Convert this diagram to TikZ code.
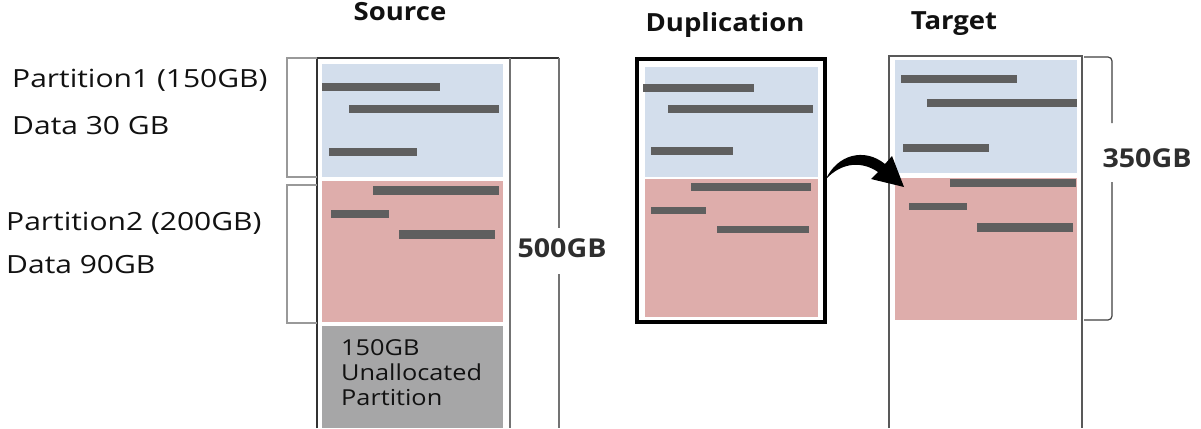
\documentclass[tikz,border=0pt]{standalone}
\usepackage{fontspec}
\setmainfont{Open Sans}[FakeStretch=1.1]
\newfontfamily\widefont{Open Sans}[FakeStretch=1.2]
\newfontfamily\midfont{Open Sans}[FakeStretch=1.15]
\definecolor{pblue}{HTML}{D3DEEC}
\definecolor{pred}{HTML}{DEADAB}
\definecolor{pgray}{HTML}{A6A6A7}
\definecolor{barc}{HTML}{5F5F5F}
\definecolor{txt}{HTML}{111111}
\definecolor{numc}{HTML}{2E2E2E}
\tikzset{
  databar/.style={fill=barc},
  head/.style={font=\fontsize{25}{29}\selectfont\bfseries, text=txt, anchor=base, inner sep=0pt},
  sizelbl/.style={font=\fontsize{26}{30}\selectfont\bfseries, text=numc, anchor=base, inner sep=0pt},
  plabel/.style={font=\widefont\fontsize{25}{29}\selectfont, text=txt, anchor=base west, inner sep=0pt},
  edge/.style={draw=#1, line width=1.5pt},
  brk/.style={draw=#1, line width=1.2pt},
}
\begin{document}
\begin{tikzpicture}[x=1pt,y=-1pt]
\useasboundingbox[fill=white] (0,0) rectangle (1201,428);

% ---------- Source ----------
\fill[pblue] (322,64) rectangle (503,177);
\fill[pred] (322,181) rectangle (503,322);
\fill[pgray] (322,326) rectangle (503,428);
\fill[databar] (322,83) rectangle (440,91);
\fill[databar] (349,105) rectangle (499,113);
\fill[databar] (329,148) rectangle (417,156);
\fill[databar] (373,186) rectangle (499,195);
\fill[databar] (331,210) rectangle (389,218);
\fill[databar] (399,230) rectangle (495,239);
\draw[edge={black!80}] (317,428) -- (317,58) -- (559,58);
\draw[edge={black!55}] (510,58) -- (510,428);
\draw[edge={black!55}] (559,58) -- (559,228);
\draw[edge={black!55}] (559,274) -- (559,428);
\node[head] (src) at (400,21) {Source};
\node[sizelbl] (s500) at (562,257) {500GB};
\node[font=\midfont\fontsize{22}{25}\selectfont, text=txt, anchor=base west, align=left, inner sep=0pt] (unal1) at (341,355) {150GB};
\node[font=\midfont\fontsize{22}{25}\selectfont, text=txt, anchor=base west, align=left, inner sep=0pt] (unal2) at (341,380) {Unallocated};
\node[font=\midfont\fontsize{22}{25}\selectfont, text=txt, anchor=base west, align=left, inner sep=0pt] (unal3) at (341,405) {Partition};

% left brackets
\draw[brk={black!40}] (317,58) -- (287,58) -- (287,177) -- (317,177);
\draw[brk={black!40}] (317,185) -- (287,185) -- (287,323) -- (317,323);
\node[plabel] (p1) at (12,88) {Partition1 (150GB)};
\node[plabel] (d1) at (12,134) {Data 30 GB};
\node[plabel] (p2) at (6,230) {Partition2 (200GB)};
\node[plabel] (d2) at (6,273) {Data 90GB};

% ---------- Duplication ----------
\fill[pblue] (645,67) rectangle (818,177);
\fill[pred] (645,179) rectangle (818,317);
\fill[databar] (643,84) rectangle (754,92);
\fill[databar] (668,105) rectangle (813,113);
\fill[databar] (651,147) rectangle (733,155);
\fill[databar] (691,183) rectangle (811,191);
\fill[databar] (651,207) rectangle (706,214);
\fill[databar] (717,226) rectangle (809,233);
\node[draw=black, line width=3.5pt, minimum width=188pt, minimum height=263pt, inner sep=0pt] (dup) at (731,190.5) {};
\node[head] (duph) at (725,32) {Duplication};

% ---------- Target ----------
\fill[pblue] (895,60) rectangle (1077,173);
\fill[pred] (895,178) rectangle (1077,320);
\fill[databar] (901,75) rectangle (1017,83);
\fill[databar] (927,99) rectangle (1077,107);
\fill[databar] (903,144) rectangle (989,152);
\fill[databar] (950,179) rectangle (1076,187);
\fill[databar] (909,203) rectangle (967,210);
\fill[databar] (977,223) rectangle (1073,232);
\draw[edge={black!65}] (889,428) -- (889,56) -- (1082,56) -- (1082,428);
\node[head] (tgth) at (954,30) {Target};
% 350GB bracket
\draw[brk={black!75}] (1084,57) -- (1108,57) to[out=0,in=90] (1112,61) -- (1112,123);
\draw[brk={black!75}] (1112,182) -- (1112,316) to[out=-90,in=0] (1108,320) -- (1084,320);
\node[sizelbl] (t350) at (1147,167) {350GB};

% ---------- curved arrow (Duplication -> Target) ----------
\coordinate (atail) at (826,179);
\coordinate (atip) at (904,187);
\fill[black] (atail) .. controls (837,155) and (864,147) .. (885,164)
  -- (892,156) -- (atip) -- (871,179) -- (878,172)
  .. controls (862,161) and (842,162) .. (atail) -- cycle;
\end{tikzpicture}
\end{document}
